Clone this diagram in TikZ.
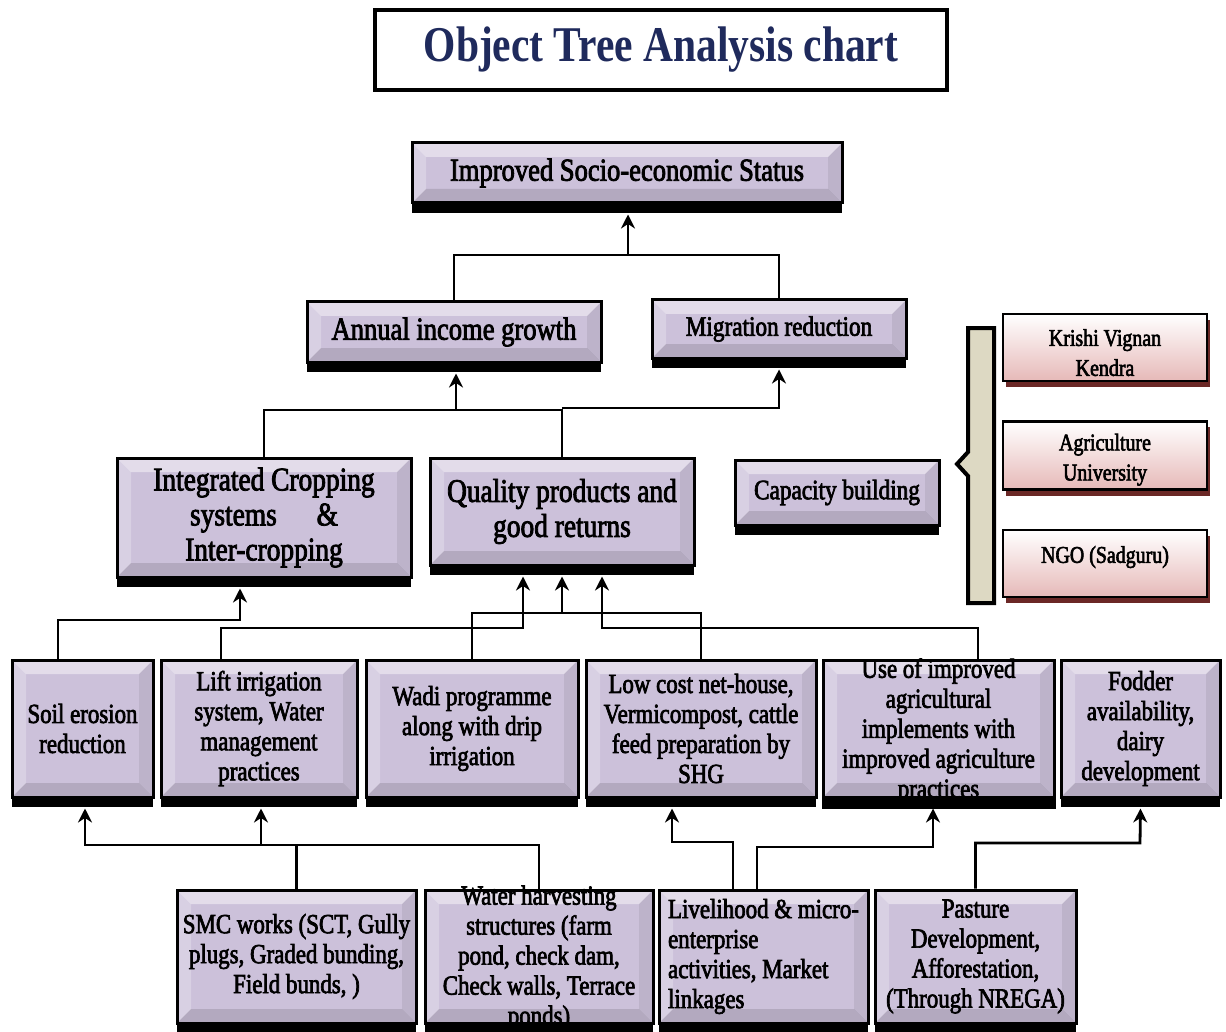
\documentclass[tikz,border=0pt]{standalone}
\usepackage{fontspec}
\setmainfont{Liberation Serif}[FakeStretch=0.83]
\newfontfamily\medium{Liberation Serif}[FakeStretch=0.83, FakeBold=2.5]
\usetikzlibrary{arrows.meta,shadows,calc}
\definecolor{lav}{HTML}{CCC1DA}
\definecolor{navy}{HTML}{1F2A5C}
\definecolor{beige}{HTML}{DDD9C3}
\definecolor{pinkb}{HTML}{E6B9B8}
\definecolor{redsh}{HTML}{6B2826}
\newcommand\myfs[2]{\fontsize{#1}{#2}\selectfont}
\tikzset{
  bevel/.style={path picture={
    \coordinate (bvsw) at (path picture bounding box.south west);
    \coordinate (bvne) at (path picture bounding box.north east);
    \coordinate (bvnw) at (path picture bounding box.north west);
    \coordinate (bvse) at (path picture bounding box.south east);
    \fill[white,opacity=.45] (bvnw) -- (bvne) -- ([shift={(-7pt,-7pt)}]bvne) -- ([shift={(7pt,-7pt)}]bvnw) -- cycle;
    \fill[white,opacity=.25] (bvnw) -- (bvsw) -- ([shift={(7pt,7pt)}]bvsw) -- ([shift={(7pt,-7pt)}]bvnw) -- cycle;
    \fill[black,opacity=.07] (bvne) -- (bvse) -- ([shift={(-7pt,7pt)}]bvse) -- ([shift={(-7pt,-7pt)}]bvne) -- cycle;
    \fill[black,opacity=.12] (bvsw) -- (bvse) -- ([shift={(-7pt,7pt)}]bvse) -- ([shift={(7pt,7pt)}]bvsw) -- cycle;
  }},
  lbox/.style={draw=black, line width=1.5pt, fill=lav, align=center, inner sep=2pt,
    bevel, general shadow={fill=black, shadow yshift=-5pt}},
  pbox/.style={draw=black, line width=1.2pt, top color=white, bottom color=pinkb,
    align=center, inner sep=2pt, minimum width=102pt,
    general shadow={fill=redsh, shadow xshift=1.5pt, shadow yshift=-3pt},
    font=\medium\myfs{12}{15}},
  rowfont/.style={font=\medium\myfs{13.8}{15}},
  rowa/.style={lbox, minimum height=68.5pt, rowfont},
  rowb/.style={lbox, minimum height=66.5pt, rowfont},
  freetext/.style={align=center, inner sep=0pt, rowfont},
  conn/.style={line width=1.4pt, line join=miter},
  arrc/.style={conn, -{Stealth[length=7pt,width=7pt]}},
}
\begin{document}
\begin{tikzpicture}[x=0.5pt,y=-0.5pt]
\fill[white] (0,0) rectangle (1226,1032);
\useasboundingbox (0,0) rectangle (1226,1032);

% title
\node[draw=black, line width=2.2pt, fill=white, minimum width=286pt, minimum height=40pt,
  text=navy, font=\bfseries\myfs{25}{28}] (title) at (661,50) {Object Tree Analysis chart};

% level 1
\node[lbox, minimum width=215pt, minimum height=30pt, font=\medium\myfs{16}{18}] (imp) at (627,173) {Improved Socio-economic Status};
% level 2
\node[lbox, minimum width=147pt, minimum height=30pt, font=\medium\myfs{16}{18}] (annual) at (454,332) {Annual income growth};
\node[lbox, minimum width=127pt, minimum height=29pt, font=\medium\myfs{14}{15}] (migr) at (779,329) {Migration reduction};
% level 3
\node[lbox, minimum width=147pt, minimum height=59.5pt, font=\medium\myfs{16.5}{17.5}] (integ) at (264,517.5) {Integrated Cropping\\systems\quad\ \&\\Inter-cropping};
\node[lbox, minimum width=132pt, minimum height=53.5pt, font=\medium\myfs{16.5}{17.5}] (qual) at (562,511.5) {Quality products and\\good returns};
\node[lbox, minimum width=102pt, minimum height=32.5pt, font=\medium\myfs{14}{15}] (cap) at (837,492.5) {Capacity building};

% bracket
\filldraw[fill=beige, draw=black, line width=2pt, line join=miter]
  (968,328) -- (994,328) -- (994,603) -- (968,603) -- (968,476) -- (957,464) -- (968,452) -- cycle;

% pink boxes
\node[pbox, minimum height=33.5pt] (kvk) at (1105,347.5) {\rule{0pt}{13.5pt}Krishi Vignan\\Kendra};
\node[pbox, minimum height=32.5pt] (agri) at (1105,455.5) {\rule{0pt}{12.5pt}Agriculture\\University};
\node[pbox, minimum height=33.5pt, text depth=9pt] (ngo) at (1105,563.5) {NGO (Sadguru)};

% row 3
\node[rowa, minimum width=70.5pt] (soil) at (82.5,728.5) {Soil erosion\\reduction};
\node[rowa, minimum width=98pt] (lift) at (259,728.5) {Lift irrigation\\system, Water\\management\\practices};
\node[rowa, minimum width=106pt] (wadi) at (472,728.5) {Wadi programme\\along with drip\\irrigation};
\node[rowa, minimum width=115pt] (lowc) at (701,728.5) {Low cost net-house,\\Vermicompost, cattle\\feed preparation by\\SHG};
\node[rowa, minimum width=115.5pt] (useimp) at (938.5,728.5) {};
\node[freetext] (useimpT) at (938.5,731) {Use of improved\\agricultural\\implements with\\improved agriculture\\practices};
\node[rowa, minimum width=79.5pt] (fodder) at (1140.5,728.5) {Fodder\\availability,\\dairy\\development};

% row 4
\node[rowb, minimum width=119.5pt] (smc) at (296.5,956.5) {SMC works (SCT, Gully\\plugs, Graded bunding,\\Field bunds, )};
\node[rowb, minimum width=114pt] (water) at (539,956.5) {};
\node[freetext] (waterT) at (539,958) {Water harvesting\\structures (farm\\pond, check dam,\\Check walls, Terrace\\ponds)};
\node[rowb, minimum width=104.5pt, align=left] (live) at (763.5,956.5) {Livelihood \& micro-\\enterprise\\activities, Market\\linkages};
\node[rowb, minimum width=100.5pt] (past) at (975.5,956.5) {Pasture\\Development,\\Afforestation,\\(Through NREGA)};

% shadow-bottom coordinates
\foreach \n in {imp,annual,migr,integ,qual,soil,lift,lowc,useimp,fodder}
  \coordinate (\n S) at ($(\n.south)+(0,10)$);

% clipped last line of "Use of improved..."
\fill[black] (useimp.south west) rectangle (useimpS -| useimp.east);

% connectors level 2 -> 1
\coordinate (j1) at (628,255);
\draw[conn] (annual.north) |- (migr.north |- j1) -- (migr.north);
\draw[arrc] (j1) -- (impS -| j1);

% level 3 -> 2
\coordinate (j2) at (456,410);
\draw[conn] (integ.north) |- (qual.north |- j2) -- (qual.north);
\draw[arrc] (j2) -- (annualS -| j2);
\draw[arrc] (qual.north |- 0,408) -| (migrS);

% row 3 -> level 3
\draw[arrc] (soil.north -| 58,0) |- (240,620) -- (integS -| 240,0);
\draw[arrc] (lift.north -| 221,0) |- (523,628) -- (qualS -| 523,0);
\draw[arrc] (wadi.north) |- (562,613) -- (qualS);
\draw[conn] (lowc.north) |- (562,613);
\draw[arrc] (useimp.north -| 978,0) |- (602,628) -- (qualS -| 602,0);

% row 4 -> row 3
\draw[arrc] (smc.north) |- (85,845) -- (soilS -| 85,0);
\draw[arrc] (water.north) |- (261,845) -- (liftS -| 261,0);
\draw[arrc] (live.north -| 733,0) |- (672,842) -- (lowcS -| 672,0);
\draw[arrc] (live.north -| 757,0) |- (933,847) -- (useimpS -| 933,0);
\draw[arrc] (past.north) |- (1140,843) -- (fodderS);
\end{tikzpicture}
\end{document}
